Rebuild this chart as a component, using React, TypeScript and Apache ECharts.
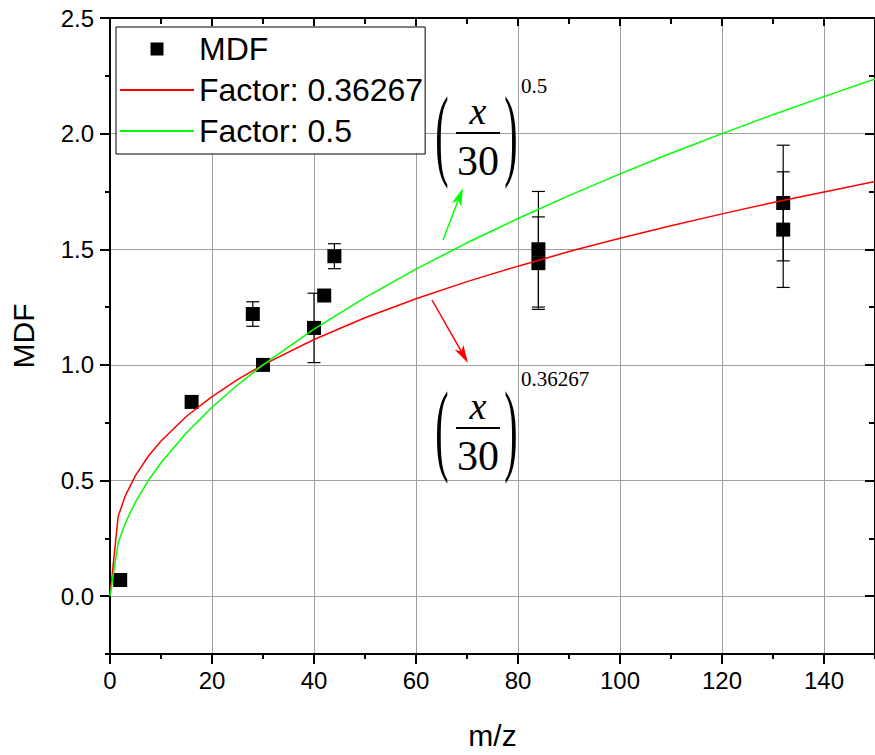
import React, { useEffect, useRef } from 'react';
import * as echarts from 'echarts';

// ---- data ----
const mzValues = [2, 16, 28, 30, 40, 42, 44, 84, 84, 132, 132];
const mdfValues = [0.07, 0.84, 1.22, 1.0, 1.16, 1.3, 1.47, 1.5, 1.44, 1.7, 1.585];
const mdfErrors = [0, 0, 0.053, 0, 0.15, 0, 0.054, 0.25, 0.2, 0.25, 0.25];

const curveX = [0, 1.6, 3, 5, 7.5, 10, 15, 20, 25, 30, 40, 50, 60, 70, 80, 90, 100, 110, 120, 130, 140, 150];
const factorRed = [0, 0.345, 0.434, 0.522, 0.605, 0.671, 0.778, 0.863, 0.936, 1.0, 1.11, 1.204, 1.286, 1.36, 1.427, 1.49, 1.548, 1.602, 1.653, 1.702, 1.748, 1.793];
const factorGreen = [0, 0.231, 0.316, 0.408, 0.5, 0.577, 0.707, 0.817, 0.913, 1.0, 1.155, 1.291, 1.414, 1.528, 1.633, 1.732, 1.826, 1.915, 2.0, 2.082, 2.16, 2.236];

const seriesNames = ['MDF', 'Factor: 0.36267', 'Factor: 0.5'];
const xMajorTicks = [0, 20, 40, 60, 80, 100, 120, 140];
const xMinorTicks = [10, 30, 50, 70, 90, 110, 130, 150];
const yMajorTicks = [0, 0.5, 1.0, 1.5, 2.0, 2.5];
const yMinorTicks = [-0.25, 0.25, 0.75, 1.25, 1.75, 2.25];

const SANS = "Arial, 'Liberation Sans', sans-serif";
const SERIF = "'Times New Roman', 'Liberation Serif', serif";
const AXIS_COLOR = '#000';

function arrow(x1: number, y1: number, x2: number, y2: number, color: string) {
  const dx = x2 - x1, dy = y2 - y1;
  const L = Math.hypot(dx, dy);
  const ux = dx / L, uy = dy / L;
  const hl = 18, hw = 5;
  const bx = x2 - ux * hl, by = y2 - uy * hl;
  const nx = x2 - ux * hl * 0.75, ny = y2 - uy * hl * 0.75;
  return [
    { type: 'line', z: 100, shape: { x1, y1, x2: nx, y2: ny }, style: { stroke: color, lineWidth: 1.5 } },
    {
      type: 'polygon', z: 100,
      shape: { points: [[x2, y2], [bx - uy * hw, by + ux * hw], [nx, ny], [bx + uy * hw, by - ux * hw]] },
      style: { fill: color },
    },
  ];
}

function txt(text: string, x: number, y: number, fontSize: number, opts: any = {}) {
  const align = opts.align || 'center';
  return {
    type: 'text', z: 100, x, y,
    scaleY: opts.scaleY || 1,
    style: {
      text, fill: '#000',
      fontSize, fontFamily: SERIF, fontStyle: opts.italic ? 'italic' : 'normal',
      align, verticalAlign: 'middle', textAlign: align, textVerticalAlign: 'middle',
    },
  };
}

function formula(cy: number, exponent: string, expY: number) {
  return [
    txt('(', 442, cy, 40, { scaleY: 2.55 }),
    txt('x', 478, cy - 22, 38, { italic: true }),
    { type: 'line', z: 100, shape: { x1: 456, y1: cy, x2: 500, y2: cy }, style: { stroke: '#000', lineWidth: 2 } },
    txt('30', 478, cy + 28, 42),
    txt(')', 511, cy, 40, { scaleY: 2.55 }),
    txt(exponent, 521, expY, 21, { align: 'left' }),
  ];
}

function xAxisDef(position: string, ticks: number[], len: number, inside: boolean, main: boolean, showLine: boolean) {
  return {
    type: 'value', min: 0, max: 150, interval: 20, position,
    name: main ? 'm/z' : '',
    nameLocation: 'middle', nameGap: 66,
    nameTextStyle: { fontSize: 30, fontFamily: SANS, color: '#000' },
    axisLine: { show: showLine, onZero: false, lineStyle: { color: AXIS_COLOR, width: 2 } },
    axisTick: { show: true, inside, length: len, customValues: ticks, lineStyle: { color: AXIS_COLOR, width: 2 } },
    minorTick: { show: false },
    axisLabel: main
      ? { show: true, customValues: xMajorTicks, margin: 14, fontSize: 24, color: '#000', fontFamily: SANS }
      : { show: false },
    splitLine: main ? { show: true, lineStyle: { color: '#a0a0a0', width: 1 } } : { show: false },
  };
}

function yAxisDef(position: string, ticks: number[], len: number, inside: boolean, main: boolean, showLine: boolean) {
  return {
    type: 'value', min: -0.25, max: 2.5, position,
    name: main ? 'MDF' : '',
    nameLocation: 'middle', nameGap: 72, nameRotate: 90,
    nameTextStyle: { fontSize: 30, fontFamily: SANS, color: '#000' },
    axisLine: { show: showLine, onZero: false, lineStyle: { color: AXIS_COLOR, width: 2 } },
    axisTick: { show: true, inside, length: len, customValues: ticks, lineStyle: { color: AXIS_COLOR, width: 2 } },
    minorTick: { show: false },
    axisLabel: main
      ? {
          show: true, customValues: yMajorTicks, margin: 16, fontSize: 24, color: '#000', fontFamily: SANS,
          formatter: (v: number) => v.toFixed(1),
        }
      : { show: false },
    splitLine: main ? { show: true, lineStyle: { color: '#a0a0a0', width: 1 } } : { show: false },
  };
}

export default function App() {
  const ref = useRef<HTMLDivElement>(null);

  useEffect(() => {
    if (!ref.current) return;
    const chart = echarts.init(ref.current, null, { renderer: 'svg' });

    const scatterData = mzValues.map((x, i) => [x, mdfValues[i]]);
    const errorData = mzValues.map((x, i) => [x, mdfValues[i], mdfErrors[i]]);
    const redData = curveX.map((x, i) => [x, factorRed[i]]);
    const greenData = curveX.map((x, i) => [x, factorGreen[i]]);

    chart.setOption({
      animation: false,
      backgroundColor: '#fff',
      grid: { left: 106, right: -4, top: 18, bottom: 100, containLabel: false },
      legend: {
        data: [
          { name: seriesNames[0], icon: 'path://M0,0L10,0L10,10L0,10Z', itemStyle: { color: '#000', opacity: 1 } },
          { name: seriesNames[1], itemStyle: { opacity: 0 } },
          { name: seriesNames[2], itemStyle: { opacity: 0 } },
        ],
        orient: 'vertical',
        left: 116, top: 27,
        itemWidth: 74, itemHeight: 13, itemGap: 9, itemTextGap: 10,
        padding: [6, 2, 7, 3],
        borderColor: '#000', borderWidth: 1,
        backgroundColor: '#fff',
        textStyle: { fontSize: 32, lineHeight: 30, fontFamily: SANS, color: '#000' },
        selectedMode: false,
        z: 50,
      },
      xAxis: [
        xAxisDef('bottom', xMajorTicks, 10, false, true, true),
        xAxisDef('bottom', xMinorTicks, 5, false, false, false),
        xAxisDef('top', xMajorTicks, 8, true, false, true),
        xAxisDef('top', xMinorTicks, 6, true, false, false),
      ],
      yAxis: [
        yAxisDef('left', yMajorTicks, 10, false, true, true),
        yAxisDef('left', yMinorTicks, 5, false, false, false),
        yAxisDef('right', yMajorTicks, 10, true, false, true),
        yAxisDef('right', yMinorTicks, 6, true, false, false),
      ],
      series: [
        {
          type: 'custom',
          name: 'errors',
          xAxisIndex: 0, yAxisIndex: 0,
          z: 1,
          data: errorData,
          renderItem: (params: any, api: any) => {
            const x = api.value(0), y = api.value(1), e = api.value(2);
            if (!e) return null;
            const top = api.coord([x, y + e]);
            const bot = api.coord([x, y - e]);
            const w = 6.5;
            const style = { stroke: '#000', lineWidth: 1.2 };
            return {
              type: 'group',
              children: [
                { type: 'line', shape: { x1: top[0], y1: top[1], x2: bot[0], y2: bot[1] }, style },
                { type: 'line', shape: { x1: top[0] - w, y1: top[1], x2: top[0] + w, y2: top[1] }, style },
                { type: 'line', shape: { x1: bot[0] - w, y1: bot[1], x2: bot[0] + w, y2: bot[1] }, style },
              ],
            };
          },
        },
        {
          type: 'scatter',
          name: seriesNames[0],
          symbol: 'rect',
          symbolSize: 14,
          itemStyle: { color: '#000', opacity: 1 },
          z: 2,
          data: scatterData,
        },
        {
          type: 'line',
          name: seriesNames[1],
          symbol: 'none', showSymbol: false,
          lineStyle: { color: '#ff0000', width: 1.5 },
          itemStyle: { color: '#ff0000' },
          z: 3,
          data: redData,
        },
        {
          type: 'line',
          name: seriesNames[2],
          symbol: 'none', showSymbol: false,
          lineStyle: { color: '#00ff00', width: 1.5 },
          itemStyle: { color: '#00ff00' },
          z: 3,
          data: greenData,
        },
      ],
      graphic: [
        ...formula(133, '0.5', 86),
        ...formula(428, '0.36267', 379),
        ...arrow(443, 240, 463, 188, '#00ff00'),
        ...arrow(432, 300, 468, 363, '#ff0000'),
      ],
    });

    return () => chart.dispose();
  }, []);

  return (
    <div
      ref={ref}
      style={{ position: 'fixed', left: 0, top: 0, width: 875, height: 755, background: '#fff' }}
    />
  );
}
